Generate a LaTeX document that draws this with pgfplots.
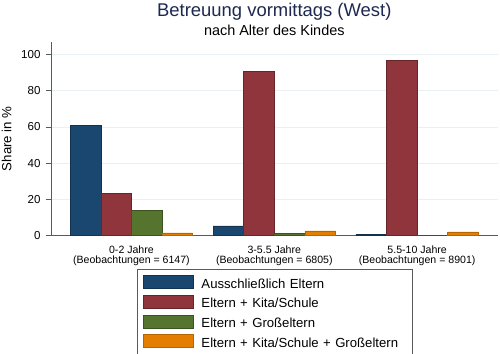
\documentclass[border=0pt]{standalone}
\usepackage{fontspec}
\setmainfont{Liberation Sans}
\usepackage{pgfplots}
\pgfplotsset{compat=1.18}
\definecolor{c1}{RGB}{26,71,111}
\definecolor{c2}{RGB}{144,53,59}
\definecolor{c3}{RGB}{85,117,47}
\definecolor{c4}{RGB}{227,126,0}
\definecolor{gridc}{RGB}{232,240,243}
\definecolor{axisgray}{RGB}{90,90,90}
\definecolor{titlec}{RGB}{30,40,80}
\begin{document}
\begin{tikzpicture}[x=1bp,y=1bp]
\useasboundingbox (0,0) rectangle (500,353);
\node[anchor=base, font=\fontsize{18.5}{20}\selectfont, text=titlec, inner sep=0] at (274.3,336.3) {Betreuung vormittags (West)};
\node[anchor=base, font=\fontsize{14.5}{16}\selectfont, inner sep=0] at (274.3,318) {nach Alter des Kindes};
\node[anchor=base, rotate=90, font=\fontsize{13.3}{15}\selectfont, inner sep=0] at (11.3,214.25) {Share in \%};
\begin{axis}[
  at={(51bp,117.5bp)}, anchor=south west,
  scale only axis, width=446.7bp, height=193.5bp,
  xmin=-0.563, xmax=2.564, ymin=0, ymax=107,
  axis x line*=bottom, axis y line*=left,
  axis line style={axisgray, line width=0.8bp, -},
  ybar=0pt, bar width=30.6bp,
  xtick={0,1,2},
  xticklabels={{0-2 Jahre\\(Beobachtungen = 6147)},{3-5.5 Jahre\\(Beobachtungen = 6805)},{5.5-10 Jahre\\(Beobachtungen = 8901)}},
  xticklabel style={align=center, font=\fontsize{10.6}{10.5}\selectfont, yshift=-1.5bp},
  x tick style={draw=none},
  ytick={0,20,...,100},
  ymajorgrids, grid style={gridc, line width=0.8bp},
  tick align=outside, major tick length=5bp,
  y tick style={axisgray, line width=0.8bp},
  /pgf/number format/assume math mode=true,
  yticklabel style={font=\fontsize{11.6}{13}\selectfont, xshift=-2bp},
  legend style={at={(0.1925,-0.1731)}, anchor=north west, draw=axisgray, line width=0.6bp,
    inner xsep=5.3bp, inner ysep=6bp, row sep=3.4bp,
    font=\fontsize{13.2}{15}\selectfont,
    nodes={inner sep=0pt, text height=9.5bp, text depth=3.5bp},
    /tikz/every odd column/.append style={column sep=8.4bp},
    /tikz/every even column/.append style={nodes={text width=205.7bp}}},
  legend cell align=left,
  legend image code/.code={\draw[#1, line width=0.5bp] (0bp,-3.5bp) rectangle (50bp,9.5bp);},
]
\addplot[fill=c1, draw=c1!70!black, line width=0.5bp] coordinates {(0,60.7) (1,5.3) (2,0.8)};
\addplot[fill=c2, draw=c2!70!black, line width=0.5bp] coordinates {(0,23.3) (1,90.6) (2,96.9)};
\addplot[fill=c3, draw=c3!70!black, line width=0.5bp] coordinates {(0,13.9) (1,1.2) (2,0)};
\addplot[fill=c4, draw=c4!80!black, line width=0.5bp] coordinates {(0,1.4) (1,2.6) (2,2.0)};
\legend{Ausschließlich Eltern, Eltern + Kita/Schule, Eltern + Großeltern, Eltern + Kita/Schule + Großeltern}
\end{axis}
\end{tikzpicture}
\end{document}
